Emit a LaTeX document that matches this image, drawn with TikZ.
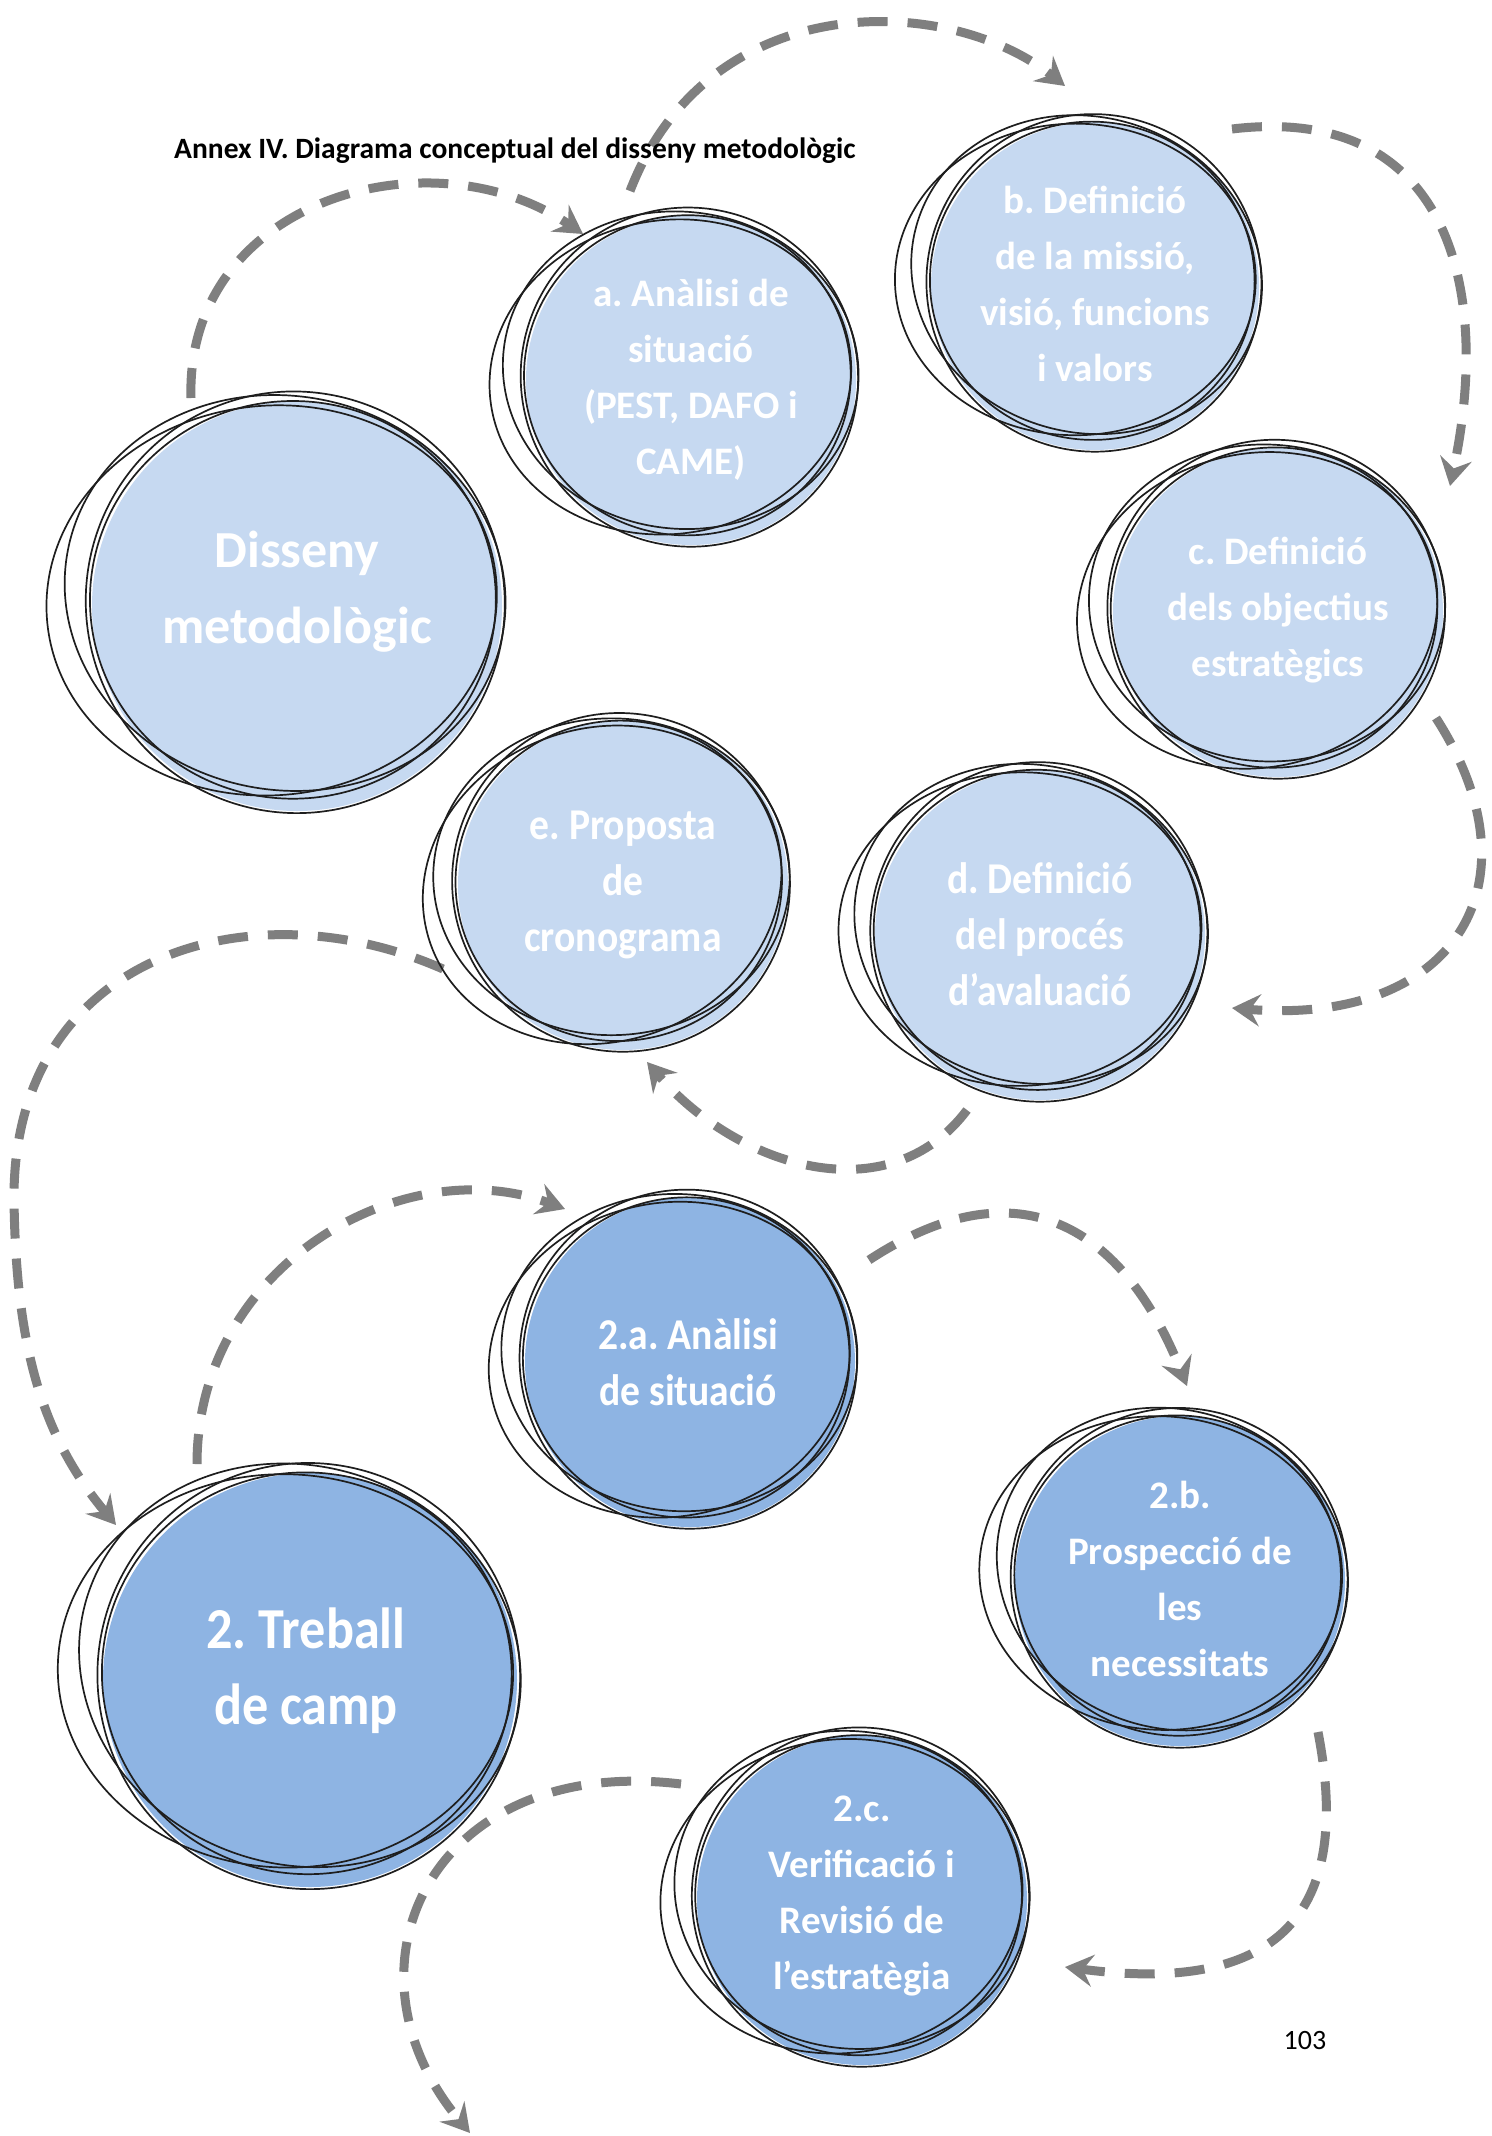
\documentclass[tikz,border=0pt]{standalone}
\usepackage{fontspec}
\setmainfont{Carlito}
\newfontfamily\narrowfont[FakeStretch=0.9]{Carlito}
\usetikzlibrary{arrows.meta,backgrounds}
\frenchspacing

\definecolor{bublight}{HTML}{C6D9F1}
\definecolor{bubdark}{HTML}{8EB4E3}
\definecolor{flowgray}{HTML}{7F7F7F}
\definecolor{inkline}{HTML}{1E1E1E}

\tikzset{
  txt/.style={align=center, text=white, inner sep=0pt,
              font=\fontsize{39}{56}\selectfont\bfseries},
  txtnarrow/.style={txt, font=\fontsize{44}{56}\selectfont\narrowfont\bfseries},
  txtbig/.style={txt, font=\fontsize{52}{76}\selectfont\bfseries},
  txtbignarrow/.style={txt, font=\fontsize{58}{76}\selectfont\narrowfont\bfseries},
  ring/.style={draw=inkline, line width=1.7pt},
  flow/.style={draw=flowgray, line width=9pt, dash pattern=on 30pt off 20pt,
               -{Stealth[length=28pt,width=32pt,inset=10pt]}},
}

% hand-sketched bubble: a filled disc with a few loose pencil rings
% #1 node name, #2 radius, #3 fill colour, #4 tilt, #5/#6 offset from the label
\newcommand\bubble[6]{%
  \begin{scope}[shift={([shift={(#5,#6)}]#1.center)}]
    \fill[#3] (0,0) circle[radius=#2];
    \draw[ring, rotate=#4]    (-0.02*#2,-0.03*#2) ellipse[x radius=0.99*#2, y radius=0.97*#2];
    \draw[ring, rotate=#4-12] (-0.07*#2,-0.05*#2) ellipse[x radius=1.08*#2, y radius=0.96*#2];
    \draw[ring, rotate=#4+6]  (-0.12*#2,-0.04*#2) ellipse[x radius=1.10*#2, y radius=0.95*#2];
    \draw[ring, rotate=#4+25] (0.0*#2,-0.02*#2) ellipse[x radius=1.02*#2, y radius=1.03*#2];
  \end{scope}}

\begin{document}
\begin{tikzpicture}[x=1pt, y=-1pt]
\useasboundingbox (0,0) rectangle (1491,2136);

% labels of the bubbles
\node[txtbig]   (dis) at (297,592)  {Disseny\\metodològic};
\node[txt]      (a)   at (691,380)  {a. Anàlisi de\\situació\\(PEST, DAFO i\\CAME)};
\node[txt]      (b)   at (1095,284) {b. Definició\\de la missió,\\visió, funcions\\i valors};
\node[txt]      (c)   at (1278,610) {c. Definició\\dels objectius\\estratègics};
\node[txtnarrow] (d)  at (1040,934) {d. Definició\\del procés\\d’avaluació};
\node[txtnarrow] (e)  at (623,885)  {e. Proposta\\de\\cronograma};
\node[txtbignarrow] (tw) at (306,1671) {2. Treball\\de camp};
\node[txtnarrow] (sa) at (688,1362) {2.a. Anàlisi\\de situació};
\node[txt]      (sb)  at (1180,1579) {2.b.\\Prospecció de\\les\\necessitats};
\node[txt]      (sc)  at (862,1896) {2.c.\\Verificació i\\Revisió de\\l’estratègia};
\coordinate (exit) at (470,2133);

\node[anchor=base west, inner sep=0pt, font=\fontsize{29.5}{35}\selectfont\bfseries]
  (title) at (174,158) {Annex IV. Diagrama conceptual del disseny metodològic};
\node[anchor=base, inner sep=0pt, font=\fontsize{28}{34}\selectfont]
  (pagenum) at (1305,2049) {103};

\begin{scope}[on background layer]
  \fill[white] (0,0) rectangle (1491,2136);

  % dashed flow between the steps
  \draw[flow] ([shift={(-106,-194)}]dis.center) .. controls (185,200) and (430,130) .. ([shift={(-108,-146)}]a.center);
  \draw[flow] ([shift={(-61,-189)}]a.center) .. controls (709,-14) and (948,-7) .. ([shift={(-30,-198)}]b.center);
  \draw[flow] ([shift={(137,-155)}]b.center) .. controls (1450,103) and (1492,290) .. ([shift={(172,-124)}]c.center);
  \draw[flow] ([shift={(158,108)}]c.center) .. controls (1544,886) and (1452,1026) .. ([shift={(192,74)}]d.center);
  \draw[flow] ([shift={(-73,176)}]d.center) .. controls (889,1214) and (738,1168) .. ([shift={(24,177)}]e.center);
  \draw[flow] ([shift={(-180,84)}]e.center) .. controls (250,884) and (12,955) .. (14,1200)
              .. controls (16,1340) and (39,1433) .. ([shift={(-190,-146)}]tw.center);
  \draw[flow] ([shift={(-109,-207)}]tw.center) .. controls (197,1264) and (405,1149) .. ([shift={(-123,-153)}]sa.center);
  \draw[flow] ([shift={(181,-102)}]sa.center) .. controls (1020,1161) and (1124,1228) .. ([shift={(7,-193)}]sb.center);
  \draw[flow] ([shift={(138,153)}]sb.center) .. controls (1356,1928) and (1263,1993) .. ([shift={(203,71)}]sc.center);
  \draw[flow] ([shift={(-181,-112)}]sc.center) .. controls (433,1754) and (331,1966) .. (exit);

  % bubbles
  \bubble{dis}{205}{bublight}{0}{0}{14}
  \bubble{a}{165}{bublight}{4}{0}{0}
  \bubble{b}{164}{bublight}{-6}{0}{2}
  \bubble{c}{165}{bublight}{8}{0}{2}
  \bubble{d}{165}{bublight}{-4}{0}{1}
  \bubble{e}{165}{bublight}{12}{0}{0}
  \bubble{tw}{207}{bubdark}{-8}{4}{9}
  \bubble{sa}{165}{bubdark}{6}{2}{0}
  \bubble{sb}{165}{bubdark}{-10}{0}{2}
  \bubble{sc}{165}{bubdark}{2}{0}{4}
\end{scope}
\end{tikzpicture}
\end{document}
